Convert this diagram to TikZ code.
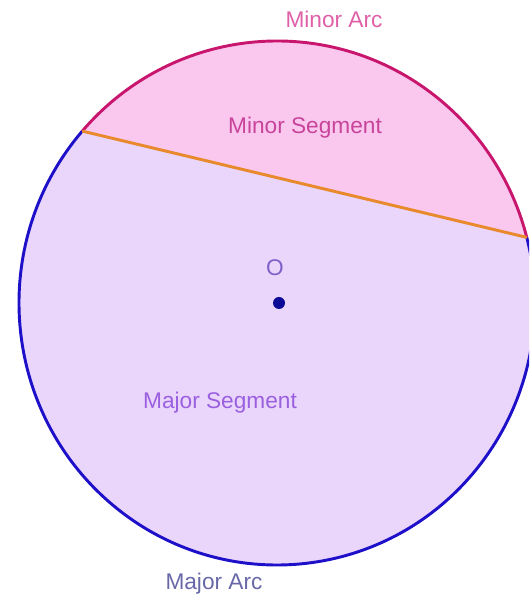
\documentclass[tikz,border=0pt]{standalone}
\usepackage{fontspec}
\setmainfont{Liberation Sans}
\definecolor{minorarc}{HTML}{C8166E}
\definecolor{majorarc}{HTML}{1E10C8}
\definecolor{chordcol}{HTML}{E88A2C}
\definecolor{minorfill}{HTML}{FAC8EE}
\definecolor{majorfill}{HTML}{EAD5FB}
\definecolor{minorarctxt}{HTML}{E060A8}
\definecolor{minorsegtxt}{HTML}{C8449A}
\definecolor{majorsegtxt}{HTML}{9A60E0}
\definecolor{majorarctxt}{HTML}{6868A8}
\definecolor{centretxt}{HTML}{8060C8}
\definecolor{dotcol}{HTML}{0A0A96}
\begin{document}
\begin{tikzpicture}[x=0.75pt,y=0.75pt,every node/.style={font=\fontsize{17}{20}\selectfont,inner sep=0pt}]
\useasboundingbox (0,0) rectangle (529,600);
\clip (0,0) rectangle (529,600);
\coordinate (O) at (277,297);
\path (O) ++(139:258 and 262) coordinate (A);
\path (O) ++(14.5:258 and 262) coordinate (B);
% segments
\fill[majorfill] (O) ellipse [x radius=258,y radius=262];
\fill[minorfill] (A) arc[start angle=139,end angle=14.5,x radius=258,y radius=262] -- cycle;
% arcs and chord
\draw[majorarc,line width=2.2pt] (A) arc[start angle=139,end angle=374.5,x radius=258,y radius=262];
\draw[minorarc,line width=2.2pt] (A) arc[start angle=139,end angle=14.5,x radius=258,y radius=262];
\draw[chordcol,line width=2.2pt] (A) -- (B);
\node[circle,fill=dotcol,minimum size=9pt] (dot) at (279,297) {};
% labels
\node[text=minorarctxt] (lminorarc) at (334,581) {Minor Arc};
\node[text=minorsegtxt] (lminorseg) at (305,472) {Minor Segment};
\node[text=centretxt] (lcentre) at (275,332) {O};
\node[text=majorsegtxt] (lmajorseg) at (220,197) {Major Segment};
\node[text=majorarctxt] (lmajorarc) at (214,16) {Major Arc};
\end{tikzpicture}
\end{document}
